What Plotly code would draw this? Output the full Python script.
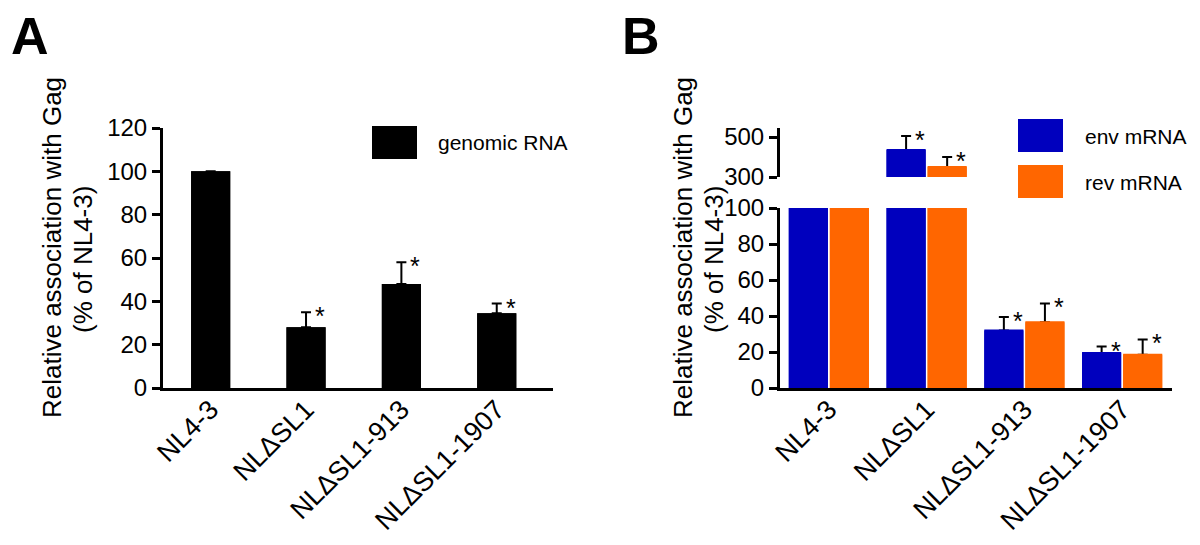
import plotly.graph_objects as go

# ---------------- data ----------------
categories = ["NL4-3", "NLΔSL1", "NLΔSL1-913", "NLΔSL1-1907"]
genomic_rna = [100, 28, 48, 34.5]
genomic_rna_err = [None, 7, 10, 4.5]
env_mrna = [100, 435, 32, 19.5]
env_mrna_err = [None, 70, 7.5, 3.5]
rev_mrna = [100, 350, 36.5, 18.5]
rev_mrna_err = [None, 50, 10.5, 8.5]

W, H = 1200, 545
OFF = 8  # page body margin
FONT = "Arial, 'Liberation Sans', sans-serif"
BLUE = "rgb(0,0,190)"
ORANGE = "rgb(255,102,0)"


def px(x):
    return (x - OFF) / W


def py(y):
    return (H - (y - OFF)) / H


xs = list(range(len(categories)))
zeros = [0] * len(categories)


def err(arr):
    return dict(type="data", array=arr, arrayminus=zeros, symmetric=False,
                color="black", thickness=2, width=5)


fig = go.Figure()

# Panel A: bar with error bars, then same bar on top to hide the lower cap
for with_err in (True, False):
    fig.add_trace(go.Bar(x=xs, y=genomic_rna, width=0.41, marker_color="black",
                         marker_line_width=0,
                         error_y=err(genomic_rna_err) if with_err else None,
                         xaxis="x", yaxis="y", showlegend=False, hoverinfo="skip"))

# Panel B lower and upper (broken axis) segments
for ya in ["y2", "y3"]:
    for with_err in (True, False):
        for vals, errs, col, off in [(env_mrna, env_mrna_err, BLUE, -0.41),
                                     (rev_mrna, rev_mrna_err, ORANGE, 0.01)]:
            if with_err:
                fig.add_trace(go.Bar(x=xs, y=vals, width=0.40, offset=off, marker_color=col,
                                     marker_line_width=0, error_y=err(errs),
                                     xaxis="x2", yaxis=ya, showlegend=False))
            else:
                fig.add_trace(go.Bar(x=xs, y=vals, width=0.38, offset=off + 0.01,
                                     marker_color=col, marker_line=dict(color=col, width=2),
                                     xaxis="x2", yaxis=ya, showlegend=False))

axis_common = dict(showline=True, linewidth=3, linecolor="black", showgrid=False,
                   zeroline=False, fixedrange=True)
xcommon = dict(axis_common, tickvals=xs, ticktext=categories, tickangle=-45, ticks="",
               ticklabelstandoff=-8,
               tickfont=dict(size=27, color="black", family=FONT))
ycommon = dict(axis_common, ticks="outside", ticklen=8, tickwidth=2.5, tickcolor="black",
               tickfont=dict(size=24, color="black", family=FONT))

fig.update_layout(
    width=W, height=H, autosize=False,
    margin=dict(l=0, r=0, t=0, b=0, pad=0, autoexpand=False),
    paper_bgcolor="white", plot_bgcolor="white",
    barmode="overlay", showlegend=False,
    font=dict(family=FONT, color="black"),
    xaxis=dict(xcommon, domain=[px(163), px(553)], range=[-0.5, 3.59], anchor="y"),
    yaxis=dict(ycommon, domain=[py(388), py(128)], range=[0, 120], dtick=20, anchor="x"),
    xaxis2=dict(xcommon, domain=[px(780), px(1172)], range=[-0.5, 3.51], anchor="y2"),
    yaxis2=dict(ycommon, domain=[py(388), py(208)], range=[0, 100], dtick=20, anchor="x2"),
    yaxis3=dict(ycommon, domain=[py(177), py(128)], range=[300, 545], tickvals=[300, 500],
                anchor="x2"),
)

ann = []
# panel letters
for letter, cx in [("A", 30), ("B", 641)]:
    ann.append(dict(text=f"<b>{letter}</b>", x=px(cx), y=py(36), xref="paper", yref="paper",
                    showarrow=False, font=dict(size=52, family=FONT),
                    xanchor="center", yanchor="middle"))
# y titles (two lines)
for cx in [52, 683]:
    ann.append(dict(text="Relative association with Gag", x=px(cx), y=py(248),
                    xref="paper", yref="paper", textangle=-90, showarrow=False,
                    font=dict(size=26, family=FONT), xanchor="center", yanchor="middle"))
    ann.append(dict(text="(% of NL4-3)", x=px(cx + 31), y=py(260),
                    xref="paper", yref="paper", textangle=-90, showarrow=False,
                    font=dict(size=26, family=FONT), xanchor="center", yanchor="middle"))
# legend labels
for txt, lx, ly in [("genomic RNA", 436, 143), ("env mRNA", 1083, 137), ("rev mRNA", 1083, 183)]:
    ann.append(dict(text=txt, x=px(lx), y=py(ly), xref="paper", yref="paper",
                    showarrow=False, font=dict(size=21, family=FONT),
                    xanchor="left", yanchor="middle"))

# significance asterisks
star = dict(showarrow=False, font=dict(size=25, family=FONT), xanchor="center",
            yanchor="middle", xshift=14, yshift=-4)
for i in xs:
    if genomic_rna_err[i]:
        ann.append(dict(star, text="*", x=i, y=genomic_rna[i] + genomic_rna_err[i],
                        xref="x", yref="y"))
for vals, errs, off in [(env_mrna, env_mrna_err, -0.21), (rev_mrna, rev_mrna_err, 0.21)]:
    for i in xs:
        if errs[i]:
            top = vals[i] + errs[i]
            ann.append(dict(star, text="*", x=i + off, y=top, xref="x2",
                            yref="y3" if vals[i] > 100 else "y2"))

fig.update_layout(annotations=ann)

# legend swatches
shapes = [
    dict(type="rect", xref="paper", yref="paper", x0=px(372), x1=px(417), y0=py(159), y1=py(126),
         fillcolor="black", line_width=0),
    dict(type="rect", xref="paper", yref="paper", x0=px(1018), x1=px(1063), y0=py(152), y1=py(119),
         fillcolor=BLUE, line_width=0),
    dict(type="rect", xref="paper", yref="paper", x0=px(1018), x1=px(1063), y0=py(198), y1=py(165),
         fillcolor=ORANGE, line_width=0),
]
fig.update_layout(shapes=shapes)

fig.write_html("out.html")
